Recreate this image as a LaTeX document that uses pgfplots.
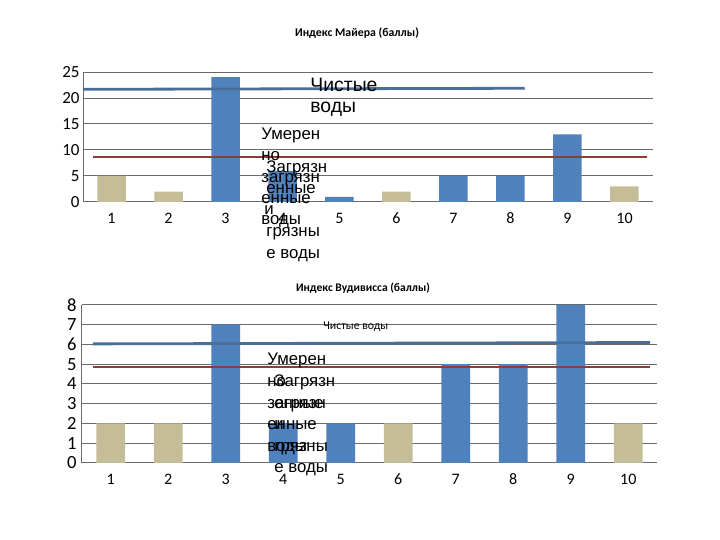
\documentclass[border=0pt]{standalone}
\usepackage{fontspec}
\setmainfont{Carlito}[Numbers=Lining]
\newfontfamily\arialf{Liberation Sans}
\usepackage{pgfplots}
\pgfplotsset{compat=1.18}
\definecolor{BarTan}{HTML}{C4BD97}
\definecolor{BarBlue}{HTML}{4F81BD}
\definecolor{LineBlue}{HTML}{4A6F96}
\definecolor{LineRed}{HTML}{8E3B3B}
\definecolor{GridGray}{HTML}{6A6A6A}

\pgfplotsset{
  chartstyle/.style={
    scale only axis,
    anchor=south west,
    xmin=0.5,xmax=10.5,ymin=0,
    xtick={1,...,10},
    axis x line*=bottom,axis y line*=left,
    axis line style={GridGray,line width=0.5pt,-},
    ymajorgrids,
    grid style={GridGray,line width=0.5pt},
    major tick length=0pt,
    /pgf/number format/assume math mode=true,
    xticklabel style={anchor=base,inner sep=0pt,yshift=-11pt,font=\fontsize{8}{9}\selectfont},
    clip=false,
  },
  barstyle/.style={ybar,bar width=0.5,bar shift=0pt,draw=none},
}

\begin{document}
\begin{tikzpicture}
\useasboundingbox (0,0) rectangle (360pt,-270pt);

% Индекс Майера
\begin{axis}[chartstyle,
  at={(41.5pt,-101pt)},width=285pt,height=65pt,
  ymax=25,ytick={0,5,...,25},
  yticklabel style={anchor=east,inner sep=0pt,xshift=-1.5pt,font=\fontsize{8.5}{9}\selectfont},
]
\addplot[barstyle,fill=BarTan] coordinates {(1,5)(2,2)(6,2)(10,3)};
\addplot[barstyle,fill=BarBlue] coordinates {(3,24)(4,6)(5,1)(7,5)(8,5)(9,13)};
\addplot[LineBlue,line width=1.4pt] coordinates {(0.5,21.67)(8.25,21.87)};
\addplot[LineRed,line width=1.4pt] coordinates {(0.675,8.65)(10.39,8.65)};
\end{axis}

% Индекс Вудивисса
\begin{axis}[chartstyle,
  at={(41pt,-231.5pt)},width=287.5pt,height=79pt,
  ymax=8,ytick={0,...,8},
  yticklabel style={anchor=east,inner sep=0pt,xshift=-2.5pt,font=\fontsize{9.3}{10}\selectfont},
]
\addplot[barstyle,fill=BarTan] coordinates {(1,2)(2,2)(6,2)(10,2)};
\addplot[barstyle,fill=BarBlue] coordinates {(3,7)(4,2)(5,2)(7,5)(8,5)(9,8)};
\addplot[LineBlue,line width=1.4pt] coordinates {(0.69,6.03)(10.38,6.1)};
\addplot[LineRed,line width=1.4pt] coordinates {(0.69,4.86)(10.38,4.86)};
\end{axis}

\begin{scope}[x=0.5pt,y=-0.5pt]
% titles
\node[anchor=base,inner sep=0pt,font=\fontsize{5.9}{7}\selectfont\bfseries] at (357,36.5) {Индекс Майера (баллы)};
\node[anchor=base,inner sep=0pt,font=\fontsize{5.8}{7}\selectfont\bfseries] at (363,292) {Индекс Вудивисса (баллы)};
% top chart labels
\begin{scope}[every node/.style={anchor=base west,inner sep=0pt,font=\arialf\fontsize{9.7}{11}\selectfont}]
\node at (310,92) {Чистые};
\node at (310,113) {воды};
\end{scope}
\begin{scope}[every node/.style={anchor=base west,inner sep=0pt,font=\arialf\fontsize{8.4}{10}\selectfont}]
\node at (261,140) {Умерен};
\node at (261,161) {но};
\node at (261,183) {загрязн};
\node at (261,204) {енные};
\node at (261,225) {воды};
\node at (266,173) {Загрязн};
\node at (266,194) {енные};
\node at (264,215) {и};
\node at (266,237) {грязны};
\node at (266,259) {е воды};
% bottom chart labels
\node at (267,365) {Умерен};
\node at (267,387) {но};
\node at (267,409) {загрязн};
\node at (267,430) {енные};
\node at (267,452) {воды};
\node at (274,387) {Загрязн};
\node at (274,409) {енные};
\node at (274,430) {и};
\node at (274,452) {грязны};
\node at (274,473) {е воды};
\end{scope}
\node[anchor=base west,inner sep=0pt,font=\fontsize{5.9}{7}\selectfont] at (323,330) {Чистые воды};
\end{scope}
\end{tikzpicture}
\end{document}
